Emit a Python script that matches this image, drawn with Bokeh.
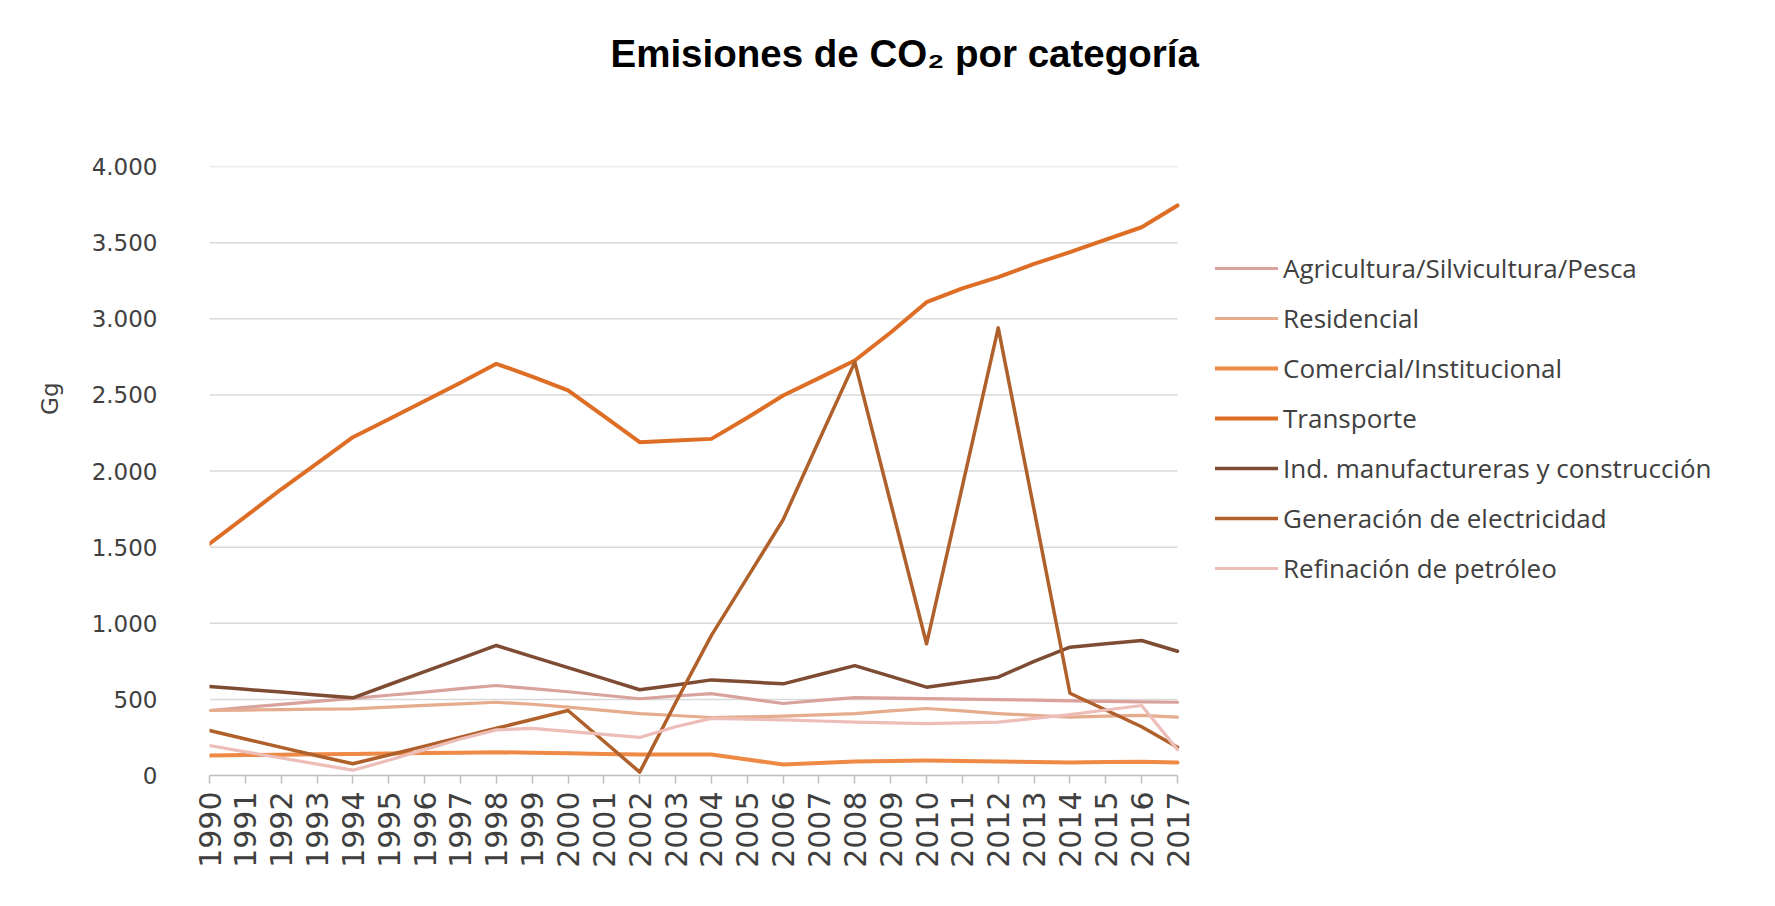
from bokeh.plotting import figure
from bokeh.models import Range1d, FixedTicker, Title
from bokeh.embed import file_html
from bokeh.resources import INLINE

# ---------------- data ----------------
years = [1990, 1991, 1992, 1993, 1994, 1995, 1996, 1997, 1998, 1999,
         2000, 2001, 2002, 2003, 2004, 2005, 2006, 2007, 2008, 2009,
         2010, 2011, 2012, 2013, 2014, 2015, 2016, 2017]

agricultura = [427, 447, 467, 487, 506, 527, 548, 570, 591, 570,
               550, 527, 504, 522, 538, 505, 473, 493, 512, 508,
               505, 502, 499, 495, 490, 487, 484, 481]
residencial = [427, 430, 433, 436, 438, 449, 460, 470, 481, 468,
               449, 428, 407, 394, 381, 385, 390, 398, 407, 424,
               440, 424, 407, 395, 383, 390, 395, 383]
comercial = [131, 134, 137, 139, 141, 144, 147, 150, 153, 150,
             146, 142, 138, 138, 138, 105, 72, 82, 92, 95,
             98, 96, 92, 88, 85, 88, 90, 85]
transporte = [1522, 1700, 1880, 2050, 2222, 2340, 2460, 2580, 2704, 2620,
              2529, 2360, 2189, 2200, 2211, 2350, 2496, 2610, 2726, 2910,
              3109, 3200, 3273, 3360, 3437, 3520, 3601, 3744]
industria = [585, 566, 548, 529, 510, 596, 682, 768, 854, 781,
             709, 636, 563, 595, 628, 615, 602, 662, 722, 651,
             580, 613, 646, 750, 843, 865, 887, 816]
generacion = [296, 240, 185, 130, 77, 135, 193, 252, 310, 368,
              427, 225, 22, 478, 920, 1300, 1680, 2200, 2715, 1790,
              865, 1900, 2940, 1745, 540, 430, 320, 186]
refinacion = [197, 155, 115, 75, 35, 100, 170, 240, 300, 309,
              290, 270, 250, 320, 375, 370, 365, 358, 350, 345,
              341, 345, 350, 375, 400, 430, 460, 170]

series_names = ["Agricultura/Silvicultura/Pesca", "Residencial",
                "Comercial/Institucional", "Transporte",
                "Ind. manufactureras y construcción",
                "Generación de electricidad", "Refinación de petróleo"]
series_values = [agricultura, residencial, comercial, transporte,
                 industria, generacion, refinacion]
series_colors = ["#D9A29C", "#E6AC8E", "#EE8A45", "#DE6E25",
                 "#7E4B33", "#B0602A", "#EDBDB8"]
series_widths = [3.2, 3.2, 4, 4, 3.5, 3.5, 3.2]

y_ticks = [0, 500, 1000, 1500, 2000, 2500, 3000, 3500, 4000]
y_tick_labels = ["0", "500", "1.000", "1.500", "2.000", "2.500",
                 "3.000", "3.500", "4.000"]

title_text = "Emisiones de CO\u2082 por categoría"
y_title = "Gg"

# ---------------- layout ----------------
W, H = 1767, 898
PL, PR, PT, PB = 209, 1177, 166, 775      # plot-area edges in canvas px
px_per_year = (PR - PL) / (years[-1] - years[0])
x_end = years[-1] + (W - PR) / px_per_year  # frame runs on to the canvas edge (room for legend)

p = figure(width=W, height=H, output_backend="svg", toolbar_location=None,
           x_range=Range1d(years[0], x_end), y_range=Range1d(0, 4000),
           min_border_left=PL, min_border_right=0,
           min_border_top=PT, min_border_bottom=H - PB)
p.outline_line_color = None
p.background_fill_color = "white"
p.border_fill_color = "white"

# horizontal gridlines limited to the plot area
p.segment(x0=years[0], x1=years[-1], y0=y_ticks[1:], y1=y_ticks[1:],
          line_color="#D9D9D9", line_width=1.5)

for name, vals, col, lw in zip(series_names, series_values, series_colors, series_widths):
    p.line(years, vals, line_color=col, line_width=lw, line_join="round",
           line_cap="round", legend_label=name)

# axes
p.xaxis.bounds = (years[0], years[-1])
p.xaxis.ticker = FixedTicker(ticks=years)
p.xaxis.major_label_orientation = 3.14159265 / 2
p.xaxis.major_label_text_font = "DejaVu Sans"
p.xaxis.major_label_text_font_size = "30px"
p.xaxis.major_label_text_color = "#404040"
p.xaxis.axis_line_color = "#BFBFBF"
p.xaxis.axis_line_width = 1.5
p.xaxis.major_tick_line_color = "#BFBFBF"
p.xaxis.major_tick_line_width = 1.5
p.xaxis.major_tick_out = 8
p.xaxis.major_tick_in = 0
p.xaxis.minor_tick_line_color = None
p.xaxis.major_label_standoff = 8

p.yaxis.ticker = FixedTicker(ticks=y_ticks)
p.yaxis.major_label_overrides = {t: l for t, l in zip(y_ticks, y_tick_labels)}
p.yaxis.major_label_text_font = "DejaVu Sans"
p.yaxis.major_label_text_font_size = "23px"
p.yaxis.major_label_text_color = "#404040"
p.yaxis.axis_line_color = None
p.yaxis.major_tick_line_color = None
p.yaxis.minor_tick_line_color = None
p.yaxis.major_tick_out = 0
p.yaxis.major_tick_in = 0
p.yaxis.major_label_standoff = 52

p.xgrid.grid_line_color = None
p.ygrid.grid_line_color = None

# legend (inside the frame, right of the plot area)
lg = p.legend[0]
lg.location = (1215 - PL, 189)
lg.border_line_color = None
lg.background_fill_alpha = 0
lg.padding = 0
lg.margin = 0
lg.spacing = 14
lg.glyph_width = 63
lg.glyph_height = 36
lg.label_height = 36
lg.label_standoff = 5
lg.label_text_font = "Open Sans"
lg.label_text_font_size = "26px"
lg.label_text_color = "#404040"

# title above: a blank spacer next to the plot, then the real title
spacer = Title(text=" ", text_font_size="2px", standoff=56)
main_title = Title(text=title_text, align="left", offset=401, standoff=60,
                   vertical_align="top",
                   text_font="Liberation Sans", text_font_style="bold",
                   text_font_size="38.5px", text_color="#000000")
p.add_layout(spacer, "above")
p.add_layout(main_title, "above")

# axis title "Gg" on the left
p.add_layout(Title(text=y_title, align="right", offset=216, standoff=52,
                   text_font="DejaVu Sans", text_font_style="normal",
                   text_font_size="23px", text_color="#404040"), "left")

open("out.html", "w").write(file_html(p, INLINE))
